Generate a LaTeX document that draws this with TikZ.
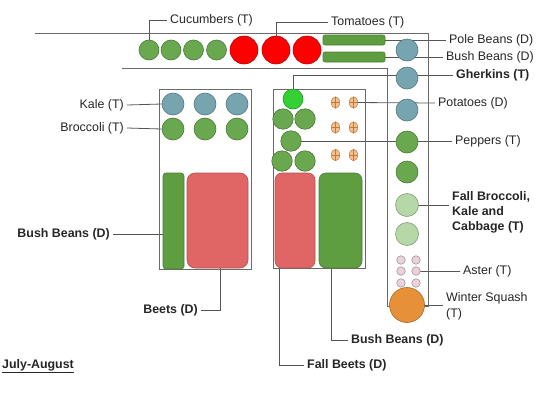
\documentclass[tikz,border=0pt]{standalone}
\usepackage{fontspec}
\setmainfont{Liberation Sans}
\usetikzlibrary{shapes.geometric}
\pgfdeclarelayer{bg}
\pgfsetlayers{bg,main}
\definecolor{leaf}{HTML}{6AA84F}
\definecolor{leafbar}{HTML}{5E9E40}
\definecolor{tomato}{HTML}{FF0000}
\definecolor{kale}{HTML}{76A5AF}
\definecolor{bright}{HTML}{34D134}
\definecolor{lightg}{HTML}{B6D7A8}
\definecolor{aster}{HTML}{EAD1DC}
\definecolor{squash}{HTML}{E69138}
\definecolor{potato}{HTML}{F6C08E}
\definecolor{potline}{HTML}{C07A3A}
\definecolor{beet}{HTML}{E06666}
\definecolor{lin}{HTML}{555555}
\definecolor{bedc}{HTML}{6A6A6A}
\definecolor{txt}{HTML}{262626}
\begin{document}
\begin{tikzpicture}[x=1pt,y=-1pt,
  lab/.style={font=\fontsize{12.4}{15}\selectfont, text=txt, inner xsep=3pt, inner ysep=1pt},
  blab/.style={lab, font=\fontsize{12.4}{15}\selectfont\bfseries},
  lead/.style={draw=lin, line width=0.8pt},
  bed/.style={draw=bedc, line width=0.9pt},
  plant/.style={circle, fill=#1, draw=#1!72!black, line width=0.6pt, inner sep=0pt},
  rbox/.style={rectangle, fill=#1, draw=#1!80!black, line width=0.6pt, inner sep=0pt},
  tuber/.style={ellipse, fill=potato, draw=potline, line width=0.5pt, inner sep=0pt,
    minimum width=8.5pt, minimum height=11.5pt,
    path picture={\draw[potline, line width=0.5pt]
      (path picture bounding box.north) -- (path picture bounding box.south)
      (path picture bounding box.west) -- (path picture bounding box.east);}},
]
\useasboundingbox (0,0) rectangle (540,405);

% beds
\draw[bed] (35,33) -- (428,33) -- (428,306) -- (387,306) -- (387,68) -- (122,68);
\node[bed, rectangle, inner sep=0pt, minimum width=92pt, minimum height=180pt] (bedL) at (205,179) {};
\node[bed, rectangle, inner sep=0pt, minimum width=92pt, minimum height=179pt] (bedR) at (319,178.5) {};

% top row
\foreach \i/\x in {1/149,2/171,3/193.5,4/216.5}
  \node[plant=leaf, minimum size=20pt] (cuc\i) at (\x,50) {};
\foreach \i/\x in {1/244,2/276,3/307}
  \node[plant=tomato, minimum size=28pt] (tom\i) at (\x,50) {};
\node[rbox=leafbar, rounded corners=2pt, minimum width=62pt, minimum height=10pt] (pole) at (354,40) {};
\node[rbox=leafbar, rounded corners=2pt, minimum width=62pt, minimum height=10pt] (bushtop) at (354,57) {};

% right column
\foreach \i/\y in {1/50,2/78,3/110}
  \node[plant=kale, minimum size=22pt] (blue\i) at (407,\y) {};
\foreach \i/\y in {1/142,2/172}
  \node[plant=leaf, minimum size=22pt] (dg\i) at (407,\y) {};
\foreach \i/\y in {1/205,2/234}
  \node[plant=lightg, minimum size=23pt] (lg\i) at (407,\y) {};
\foreach \i/\x/\y in {1/401/260,2/416/260,3/401/271,4/416/271,5/401/283,6/416/283}
  \node[plant=aster, minimum size=8.5pt] (ast\i) at (\x,\y) {};
\node[plant=squash, minimum size=35pt] (squash) at (407,305) {};

% left bed
\foreach \i/\x in {1/173,2/205,3/237} {
  \node[plant=kale, minimum size=22pt] (kale\i) at (\x,104) {};
  \node[plant=leaf, minimum size=22pt] (broc\i) at (\x,129) {};
}
\node[rbox=leafbar, rounded corners=3pt, minimum width=21pt, minimum height=96pt] (bbbar) at (173.5,221) {};
\node[rbox=beet, rounded corners=8pt, minimum width=61pt, minimum height=95pt] (beets) at (217.5,220.5) {};

% right bed
\node[plant=bright, minimum size=20pt] (gher) at (293,99) {};
\foreach \i/\x/\y in {1/283/119,2/305/119,3/291/141,4/282/161,5/305/161}
  \node[plant=leaf, minimum size=20.5pt] (pep\i) at (\x,\y) {};
\foreach \i/\x/\y in {1/335.5/102.5,2/353.5/102.5,3/335.5/127.5,4/353.5/127.5,5/335.5/155,6/353.5/155}
  \node[tuber] (pot\i) at (\x,\y) {};
\node[rbox=beet, rounded corners=7pt, minimum width=40pt, minimum height=95pt] (fbeets) at (295,220.5) {};
\node[rbox=leafbar, rounded corners=7pt, minimum width=43pt, minimum height=95pt] (bb2) at (340.5,220.5) {};

% labels
\node[lab, anchor=west] (cuclab) at (167,20) {Cucumbers (T)};
\node[lab, anchor=west] (tomlab) at (328,22) {Tomatoes (T)};
\node[lab, anchor=west] (polelab) at (446,40) {Pole Beans (D)};
\node[lab, anchor=west] (bushtoplab) at (443,57) {Bush Beans (D)};
\node[blab, anchor=west] (gherlab) at (453,75) {Gherkins (T)};
\node[lab, anchor=west] (potlab) at (435,103) {Potatoes (D)};
\node[lab, anchor=west] (peplab) at (452,141) {Peppers (T)};
\node[blab, anchor=west, align=left] (fallbroc) at (449,212) {Fall Broccoli,\\Kale and\\Cabbage (T)};
\node[lab, anchor=west] (asterlab) at (460,271) {Aster (T)};
\node[lab, anchor=west, align=left, font=\fontsize{12.4}{16}\selectfont] (squashlab) at (443,306) {Winter Squash\\(T)};
\node[lab, anchor=east] (kalelab) at (127,105) {Kale (T)};
\node[lab, anchor=east] (broclab) at (127,128) {Broccoli (T)};
\node[blab, anchor=east] (bblab) at (113,234) {Bush Beans (D)};
\node[blab, anchor=east] (beetslab) at (201,310) {Beets (D)};
\node[blab, anchor=west] (bb2lab) at (348,340) {Bush Beans (D)};
\node[blab, anchor=west] (fbeetlab) at (304,365) {Fall Beets (D)};
\node[blab, anchor=west, inner xsep=0pt] (july) at (2,366) {\underline{July-August}};

% leaders
\begin{pgfonlayer}{bg}
\draw[lead] (cuc1.center) |- (cuclab.west);
\draw[lead] (tom2.center) |- (tomlab.west);
\draw[lead] (pole.east) -- (polelab.west);
\draw[lead] (bushtop.east) -- (bushtoplab.west);
\draw[lead] (gher.center) |- (gherlab.west);
\draw[lead] (pot2.center) -- (potlab.west);
\draw[lead] (pep3.center) -- (peplab.west);
\draw[lead] (lg1.center) -- (lg1.center -| fallbroc.west);
\draw[lead] (ast4.center) -- (asterlab.west);
\draw[lead] (squash.center) -- (squash.center -| squashlab.west);
\draw[lead] (kalelab.east) -- (kale1.west);
\draw[lead] (broclab.east) -- (broc1.west);
\draw[lead] (bblab.east) -- (bblab.east -| bbbar.west);
\draw[lead] ([xshift=2.5pt]beets.south) |- (beetslab.east);
\draw[lead] ([xshift=5pt]fbeets.south west) |- (fbeetlab.west);
\draw[lead] ([xshift=13pt]bb2.south west) |- (bb2lab.west);
\end{pgfonlayer}
\end{tikzpicture}
\end{document}
